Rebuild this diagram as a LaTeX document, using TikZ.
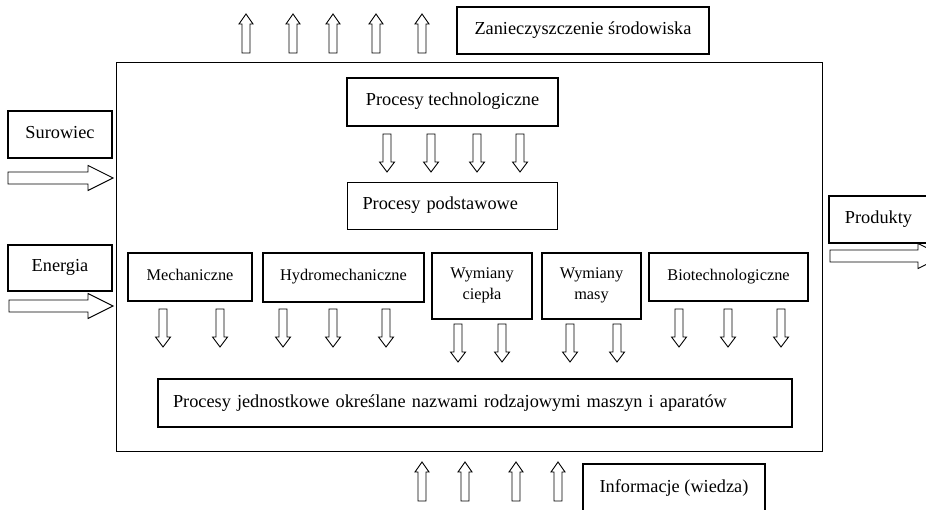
\documentclass[tikz,border=0pt]{standalone}
\usepackage{fontspec}
\setmainfont{Liberation Serif}
\usetikzlibrary{positioning}

\begin{document}
\begin{tikzpicture}[
 x=1pt,y=-1pt,
 box/.style={draw,line width=1.3pt,inner sep=2pt,align=center,font=\fontsize{18.3}{22}\selectfont,text depth=.5em},
 small/.style={font=\fontsize{16.3}{21}\selectfont},
 leftbox/.style={inner xsep=15pt,align=left},
 frame/.style={draw,line width=1pt,inner sep=0pt},
 hollow/.style={draw,line width=.9pt,fill=white,line join=miter},
 pics/downarrow/.style={code={\draw[hollow] (-4,0) -- (4,0) -- (4,28) -- (7.5,28) -- (0,38) -- (-7.5,28) -- (-4,28) -- cycle;}},
 pics/uparrow/.style={code={\draw[hollow] (0,0) -- (7,10) -- (4,10) -- (4,39) -- (-4,39) -- (-4,10) -- (-7,10) -- cycle;}},
 pics/rightarrow/.style={code={\draw[hollow] (0,-6) -- ({#1-25},-6) -- ({#1-25},-12.5) -- (#1,0) -- ({#1-25},12.5) -- ({#1-25},6) -- (0,6) -- cycle;}}
]
\clip (0,0) rectangle (926,510);
\node[frame,minimum width=706,minimum height=388] (plant) at (469,257) {};
\node[box,minimum width=252,minimum height=47] (pollution) at (583,30.5) {Zanieczyszczenie środowiska};
\node[box,minimum width=211,minimum height=48] (tech) at (452.5,102) {Procesy technologiczne};
\node[box,leftbox,text width=180,minimum height=47,below=55pt of tech] (basic) {Procesy podstawowe};
\node[box,minimum width=104,minimum height=47] (raw) at (60,134.5) {Surowiec};
\node[box,minimum width=104,minimum height=46] (energy) at (60,268) {Energia};
\node[box,minimum width=99,minimum height=47] (products) at (878.5,219.5) {Produkty};
\node[box,small,minimum width=124,minimum height=48] (mech) at (190,277) {Mechaniczne};
\node[box,small,minimum width=161,minimum height=49] (hydro) at (343.5,277.5) {Hydromechaniczne};
\node[box,small,minimum width=100,minimum height=66] (heat) at (482,286) {Wymiany\\ciepła};
\node[box,small,minimum width=99,minimum height=66] (mass) at (591.5,286) {Wymiany\\masy};
\node[box,small,minimum width=159,minimum height=48] (bio) at (728.5,277) {Biotechnologiczne};
\node[box,leftbox,text width=604,minimum height=48,text depth=.3em] (unit) at (475,403) {Procesy jednostkowe określane nazwami rodzajowymi maszyn i aparatów};
\node[box,minimum width=182,minimum height=50] (info) at (674,489) {Informacje (wiedza)};
\foreach \x in {246,293,333,376,422} \pic at (\x,14) {uparrow};
\foreach \x in {387,431,477,520} \pic at (\x,134) {downarrow};
\foreach \x in {163,220,283,333,386,679,728,781} \pic at (\x,309) {downarrow};
\foreach \x in {458,502,570,617} \pic at (\x,324) {downarrow};
\foreach \x in {422,465,516,558} \pic at (\x,462) {uparrow};
\pic at (8,178) {rightarrow=105};
\pic at (9,306) {rightarrow=104};
\pic at (830,256) {rightarrow=113};
\end{tikzpicture}
\end{document}
